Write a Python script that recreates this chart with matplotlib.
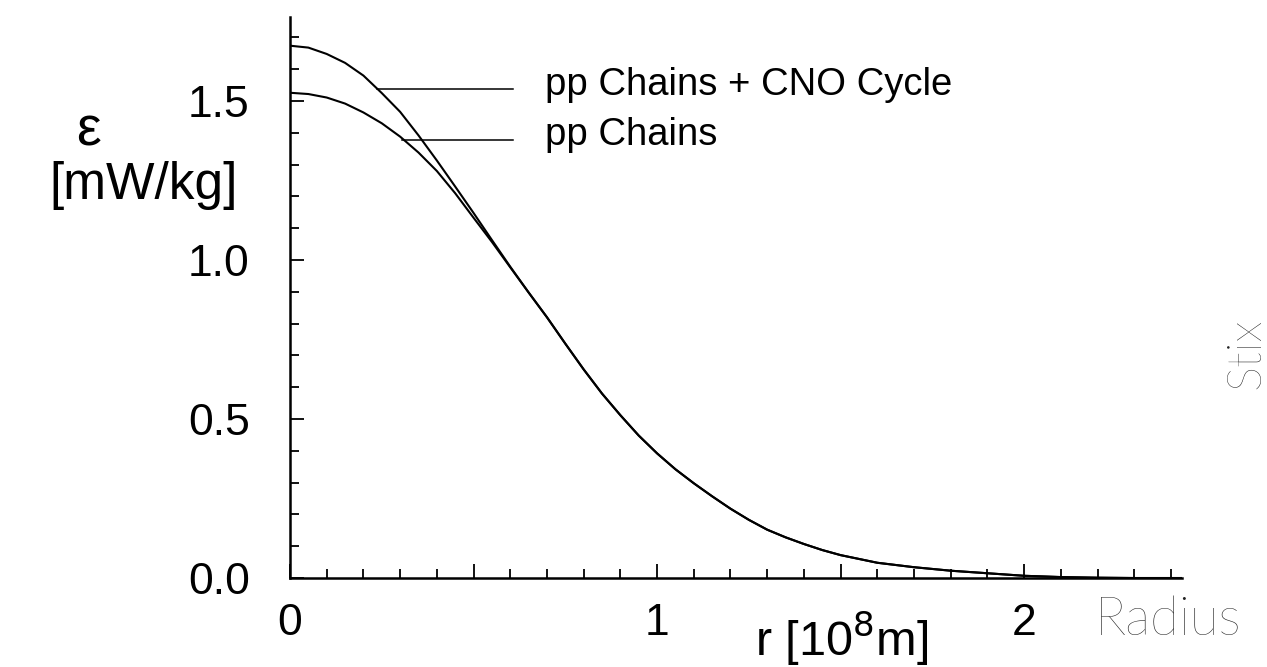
import numpy as np
import matplotlib
matplotlib.use("Agg")
import matplotlib.pyplot as plt
from matplotlib.ticker import MultipleLocator, FuncFormatter

# radius in 10^8 m, energy generation in mW/kg
radius = [0.0, 0.05, 0.1, 0.15, 0.2, 0.25, 0.3, 0.35, 0.4, 0.45, 0.5, 0.55,
          0.6, 0.65, 0.7, 0.75, 0.8, 0.85, 0.9, 0.95, 1.0, 1.05, 1.1, 1.15,
          1.2, 1.25, 1.3, 1.35, 1.4, 1.45, 1.5, 1.6, 1.7, 1.8, 1.9, 2.0,
          2.1, 2.2, 2.3, 2.43]
pp_chains = [1.526, 1.522, 1.511, 1.492, 1.464, 1.430, 1.388, 1.338, 1.280,
             1.210, 1.133, 1.057, 0.977, 0.898, 0.820, 0.737, 0.656, 0.580,
             0.512, 0.448, 0.392, 0.342, 0.298, 0.257, 0.218, 0.183, 0.152,
             0.128, 0.107, 0.088, 0.072, 0.048, 0.034, 0.023, 0.015, 0.007,
             0.003, 0.001, 0.0, 0.0]
pp_cno = [1.674, 1.668, 1.648, 1.620, 1.580, 1.525, 1.466, 1.392, 1.313,
          1.231, 1.148, 1.063, 0.979, 0.898, 0.820, 0.737, 0.656, 0.580,
          0.512, 0.448, 0.392, 0.342, 0.298, 0.257, 0.218, 0.183, 0.152,
          0.128, 0.107, 0.088, 0.072, 0.048, 0.034, 0.023, 0.015, 0.007,
          0.003, 0.001, 0.0, 0.0]

labels = ["pp Chains + CNO Cycle", "pp Chains"]
label_y = [1.537, 1.377]        # height of the leader lines
label_x0 = [0.236, 0.304]       # where the leaders meet the curves
label_x1 = 0.608
text_x = 0.695
text_base = [1.519, 1.362]

tick_font = ["Liberation Sans", "DejaVu Sans"]
light_font = ["Lato", "DejaVu Sans"]

fig = plt.figure(figsize=(12.67, 6.67), dpi=100)
ax = fig.add_axes([0.2289, 0.1334, 0.704, 0.841])

ax.plot(radius, pp_cno, color="black", lw=1.5)
ax.plot(radius, pp_chains, color="black", lw=1.5)

for y, x0, yt, lab in zip(label_y, label_x0, text_base, labels):
    ax.plot([x0, label_x1], [y, y], color="black", lw=1.1)
    ax.text(text_x, yt, lab, ha="left", va="baseline", fontsize=27.5,
            family=tick_font)

ax.set_xlim(0, 2.43)
ax.set_ylim(0, 1.764)
for side in ["top", "right"]:
    ax.spines[side].set_visible(False)
for side in ["left", "bottom"]:
    ax.spines[side].set_linewidth(1.8)

ax.xaxis.set_major_locator(MultipleLocator(0.5))
ax.xaxis.set_minor_locator(MultipleLocator(0.1))
ax.xaxis.set_major_formatter(FuncFormatter(
    lambda v, p: "%d" % round(v) if abs(v - round(v)) < 1e-6 else ""))
ax.yaxis.set_major_locator(MultipleLocator(0.5))
ax.yaxis.set_minor_locator(MultipleLocator(0.1))
ax.yaxis.set_major_formatter(FuncFormatter(lambda v, p: "%.1f" % v))

ax.tick_params(which="major", direction="in", length=10, width=1.3,
               labelsize=32)
ax.tick_params(which="minor", direction="in", length=6.5, width=1.3)
ax.tick_params(axis="y", which="major", pad=29)
ax.tick_params(axis="x", which="major", pad=18)
for t in ax.get_xticklabels() + ax.get_yticklabels():
    t.set_family(tick_font)

# axis titles, placed like the original
fig.text(0.0702, 0.803, "\u03b5", ha="center", va="center", fontsize=40,
         family=tick_font)
fig.text(0.1137, 0.722, "[mW/kg]", ha="center", va="center", fontsize=37,
         family=tick_font)
fig.text(0.664, 0.042, "r [10$^{8}$m]", ha="center", va="center",
         fontsize=35, family=tick_font)
fig.text(0.922, 0.07, "Radius", ha="center", va="center", fontsize=38,
         family=light_font, fontweight="light", color="#222222")
fig.text(0.984, 0.47, "Stix", ha="center", va="center", rotation=90,
         fontsize=34, family=light_font, fontweight="light", color="#222222")

fig.savefig("out.png", dpi=100)
